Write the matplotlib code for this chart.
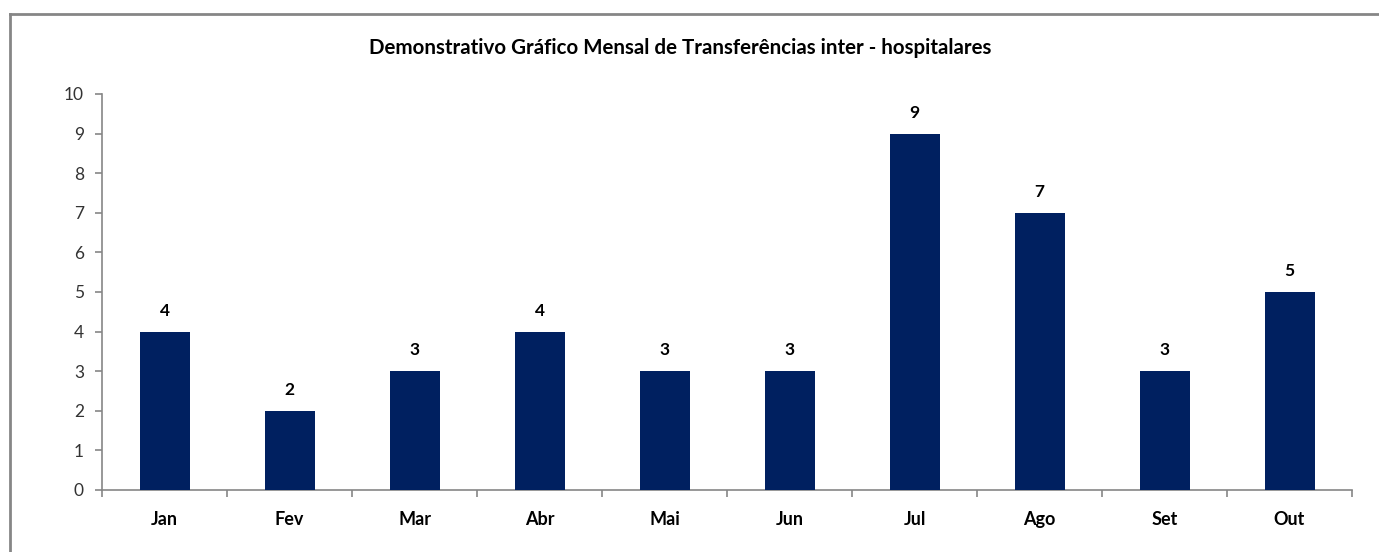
import matplotlib.pyplot as plt
import numpy as np

plt.rcParams['font.family'] = ['Lato', 'DejaVu Sans']

meses = ['Jan', 'Fev', 'Mar', 'Abr', 'Mai', 'Jun', 'Jul', 'Ago', 'Set', 'Out']
transferencias = [4, 2, 3, 4, 3, 3, 9, 7, 3, 5]
titulo = 'Demonstrativo Gráfico Mensal de Transferências inter - hospitalares'

W, H = 1379, 552
fig = plt.figure(figsize=(W / 100, H / 100), dpi=100)

# outer chart border (only left and top visible in the crop)
fig.add_artist(plt.Line2D([10 / W, 10 / W], [0, 1 - 14 / H], color='#868686', lw=2))
fig.add_artist(plt.Line2D([10 / W, 1], [1 - 14 / H, 1 - 14 / H], color='#868686', lw=2))

left, right, top, bottom = 102, 1352, 94, 490
ax = fig.add_axes([left / W, 1 - bottom / H, (right - left) / W, (bottom - top) / H])

x = np.arange(len(meses))
bars = ax.bar(x, transferencias, width=0.4, color='#002060', zorder=3)

for xi, v in zip(x, transferencias):
    ax.annotate(str(v), (xi, v), xytext=(0, 15), textcoords='offset points',
                ha='center', va='center', fontsize=12.5, fontweight='bold', color='black')

ax.set_xlim(-0.5, len(meses) - 0.5)
ax.set_ylim(0, 10)
ax.set_yticks(range(0, 11))
ax.set_xticks(x)
ax.set_xticklabels(meses, fontweight='bold', fontsize=13)
ax.set_xticks(np.arange(-0.5, len(meses)), minor=True)
ax.tick_params(axis='x', which='major', length=0, pad=15, colors='black')
ax.tick_params(axis='x', which='minor', length=5, width=1.2, color='#868686', direction='out')
ax.tick_params(axis='y', length=5, width=1.2, color='#868686', labelsize=12.5,
               labelcolor='#333333', pad=8)

for s in ['top', 'right']:
    ax.spines[s].set_visible(False)
for s in ['left', 'bottom']:
    ax.spines[s].set_color('#868686')
    ax.spines[s].set_linewidth(1.2)

fig.text(680 / W, 1 - 48 / H, titulo, ha='center', va='center',
         fontsize=14.8, fontweight='bold', color='black')

fig.savefig('out.png', dpi=100)
